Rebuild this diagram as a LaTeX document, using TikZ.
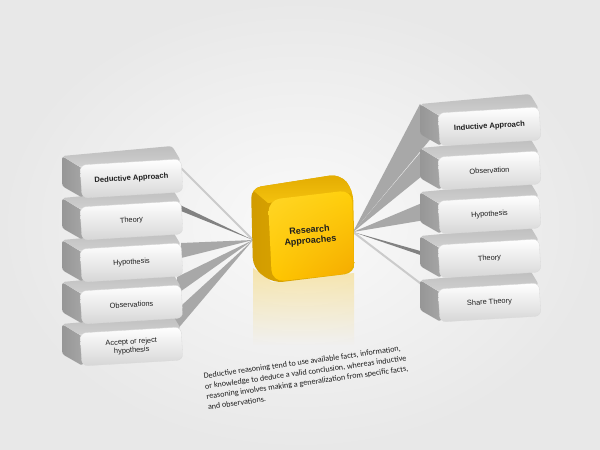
\documentclass[tikz,border=0pt]{standalone}
\usepackage{fontspec}
\setmainfont{Liberation Sans}
\newfontfamily\parafont{Carlito}
\usetikzlibrary{fadings,shadings}
\definecolor{wedgegray}{HTML}{A8A8A8}
\definecolor{wedgedark}{HTML}{828282}
\definecolor{wedgelight}{HTML}{CBCBCB}
\definecolor{sidegray}{HTML}{A6A6A6}
\definecolor{sidegraydk}{HTML}{969696}
\definecolor{topgray}{HTML}{BEBEBE}
\definecolor{topgraylt}{HTML}{CFCFCF}
\definecolor{frontlow}{HTML}{D6D6D6}
\definecolor{labelcol}{HTML}{1E1E1E}
\definecolor{reflcol}{HTML}{F6D66E}
\definecolor{cubesideA}{HTML}{D09A00}
\definecolor{cubesideB}{HTML}{E8B400}
\definecolor{cubetopA}{HTML}{E0A800}
\definecolor{cubetopB}{HTML}{F4C20E}
\definecolor{cubeUL}{HTML}{FFD628}
\definecolor{cubeUR}{HTML}{FFD00A}
\definecolor{cubeLL}{HTML}{FFC800}
\definecolor{cubeLR}{HTML}{F4A800}
\tikzset{
  wedge/.style={fill=wedgegray},
  wedgedk/.style={fill=wedgedark},
  wedgeln/.style={draw=wedgelight, line width=2pt},
  boxlabel/.style={rotate=3.4, text=labelcol, font=\fontsize{7.4}{8.6}\selectfont, align=center, inner sep=0pt},
  boxlabelb/.style={boxlabel, font=\fontsize{7.6}{8.6}\selectfont\bfseries},
}
% #1 x, #2 y, #3 name, #4 text, #5 label style
\newcommand\gbox[5]{%
\begin{scope}[shift={(#1,#2)}]
  \shade[left color=sidegraydk, right color=sidegray, rounded corners=3pt]
    (3,4) -- (-18,-9) -- (-18,21) -- (3,33) -- cycle;
  \shade[top color=topgray, bottom color=topgraylt, rounded corners=3pt]
    (0,2) -- (-18,-9) -- (92,-19) -- (101,-4) -- cycle;
  \shade[top color=white, bottom color=frontlow, rounded corners=6pt, draw=white!85!black, line width=0.3pt]
    (0,0) -- (101,-6) -- (103,27) -- (2,33) -- cycle;
  \node[#5] (#3) at (51.5,13.5) {#4};
\end{scope}}
\begin{document}
\begin{tikzpicture}[x=1pt, y=-1pt]
\useasboundingbox (0,0) rectangle (600,450);
\shade[inner color=white!98!black, outer color=white!91!black] (0,0) rectangle (600,450);

% convergence points
\coordinate (cL) at (253,240);
\coordinate (cR) at (353,232);

% left wedge end points
\coordinate (l1) at (181,168);
\coordinate (l2a) at (180,205); \coordinate (l2b) at (181,211);
\coordinate (l3a) at (181,243); \coordinate (l3b) at (181,258);
\coordinate (l4a) at (177,277); \coordinate (l4b) at (177,294);
\coordinate (l5a) at (170,316); \coordinate (l5b) at (176,331);
% right wedge end points
\coordinate (r1a) at (420,104); \coordinate (r1b) at (438,130);
\coordinate (r2a) at (420,153); \coordinate (r2b) at (438,163);
\coordinate (r3a) at (422,203); \coordinate (r3b) at (437,218);
\coordinate (r4a) at (431,254); \coordinate (r4b) at (438,261);
\coordinate (r5) at (433,293);

% wedges
\draw[wedgeln] (cL) -- (l1);
\fill[wedgedk] (cL) -- (l2a) -- (l2b) -- cycle;
\fill[wedge] (cL) -- (l3a) -- (l3b) -- cycle;
\fill[wedge] (cL) -- (l4a) -- (l4b) -- cycle;
\fill[wedge] (cL) -- (l5a) -- (l5b) -- cycle;
\fill[wedge] (cR) -- (r1a) -- (r1b) -- cycle;
\fill[wedge] (cR) -- (r2a) -- (r2b) -- cycle;
\fill[wedge] (cR) -- (r3a) -- (r3b) -- cycle;
\fill[wedgedk] (cR) -- (r4a) -- (r4b) -- cycle;
\draw[wedgeln] (cR) -- (r5);

% left boxes (bottom first)
\gbox{80}{333}{accept}{Accept or reject\\hypothesis}{boxlabel}
\gbox{80}{291}{lobs}{Observations}{boxlabel}
\gbox{80}{249}{lhyp}{Hypothesis}{boxlabel}
\gbox{80}{207}{ltheory}{Theory}{boxlabel}
\gbox{80}{165}{deductive}{Deductive Approach}{boxlabelb}
% right boxes (bottom first)
\gbox{438}{289}{share}{Share Theory}{boxlabel}
\gbox{438}{245}{rtheory}{Theory}{boxlabel}
\gbox{438}{201}{rhyp}{Hypothesis}{boxlabel}
\gbox{438}{157}{robs}{Observation}{boxlabel}
\gbox{438}{113}{inductive}{Inductive Approach}{boxlabelb}

% reflection of the cube
\fill[reflcol, opacity=0.55, path fading=south]
  (253,268) -- (272,282) -- (354,273) -- (354,345) -- (253,345) -- cycle;

% centre cube: body silhouette, top face, front face
\begin{scope}
  \clip[rounded corners=10pt] (251,188) -- (340,174) -- (353,190) -- (355,273) -- (273,283) -- (253,268) -- cycle;
  \shade[left color=cubesideA, right color=cubesideB] (245,170) rectangle (360,290);
  \shade[top color=cubetopA, bottom color=cubetopB] (248,186) -- (340,170) -- (356,192) -- (268,203) -- cycle;
\end{scope}
\shade[upper left=cubeUL, upper right=cubeUR, lower left=cubeLL, lower right=cubeLR, rounded corners=12pt]
  (268,200) -- (352,190) -- (354,273) -- (272,282) -- cycle;
\node[rotate=5, font=\fontsize{9}{10.5}\selectfont\bfseries, text=labelcol, align=center, inner sep=0pt] (research) at (310,236) {Research\\Approaches};

% description text
\node[rotate=8, anchor=north west, align=left, inner sep=0pt, text=labelcol,
      font=\parafont\fontsize{8.1}{10.4}\selectfont] (desc) at (203,373)
  {Deductive reasoning tend to use available facts, information,\\
   or knowledge to deduce a valid conclusion, whereas inductive\\
   reasoning involves making a generalization from specific facts,\\
   and observations.};
\end{tikzpicture}
\end{document}
